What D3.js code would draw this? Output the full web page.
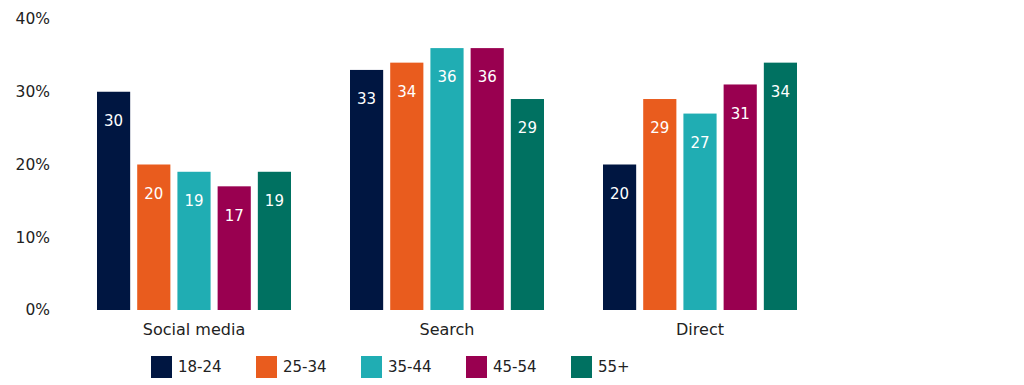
<!DOCTYPE html>
<html>
<head>
<meta charset="utf-8">
<script src="https://cdn.jsdelivr.net/npm/d3@7"></script>
<style>
  body { margin: 0; background: #fff; }
  svg text { font-family: "DejaVu Sans", sans-serif; }
</style>
</head>
<body>
<script>
let channels = ["Social media", "Search", "Direct"];
let ages = ["18-24", "25-34", "35-44", "45-54", "55+"];
let values = {
    "18-24": [30, 33, 20],
    "25-34": [20, 34, 29],
    "35-44": [19, 36, 27],
    "45-54": [17, 36, 31],
    "55+":   [19, 29, 34]
};
let yTicks = [0, 10, 20, 30, 40];
let colors = ["#001641", "#e95c1e", "#20adb3", "#990050", "#007161"];

function main() {
    let svg = d3.select("body").append("svg")
        .attr("width", 1024)
        .attr("height", 385);

    let yScale = d3.scaleLinear().domain([0, 40]).range([310, 19]);
    let xScale = d3.scaleBand().domain(channels).range([67.5, 826.5]);
    let xInner = d3.scaleBand().domain(ages).range([29.5, 223.5]).paddingInner(0.175);
    let colorScale = d3.scaleOrdinal().domain(ages).range(colors);

    // y axis labels only, no lines
    let yAxis = d3.axisLeft(yScale).tickValues(yTicks)
        .tickFormat(d => d + "%").tickSize(0).tickPadding(0);
    let gy = svg.append("g")
        .attr("transform", "translate(50,0)")
        .call(yAxis);
    gy.select(".domain").remove();
    gy.selectAll("text")
        .style("font-size", "15.5px")
        .style("font-family", "'DejaVu Sans', sans-serif")
        .attr("fill", "#222");

    let rows = [];
    channels.forEach((c, ci) => {
        ages.forEach(a => rows.push({ channel: c, age: a, value: values[a][ci] }));
    });

    svg.selectAll("rect.bar")
        .data(rows)
        .enter()
        .append("rect")
        .attr("class", "bar")
        .attr("x", d => xScale(d.channel) + xInner(d.age))
        .attr("y", d => yScale(d.value))
        .attr("width", xInner.bandwidth())
        .attr("height", d => yScale(0) - yScale(d.value))
        .attr("fill", d => colorScale(d.age));

    svg.selectAll("text.val")
        .data(rows)
        .enter()
        .append("text")
        .attr("class", "val")
        .attr("x", d => xScale(d.channel) + xInner(d.age) + xInner.bandwidth() / 2)
        .attr("y", d => yScale(d.value) + 29)
        .attr("dy", "0.35em")
        .attr("text-anchor", "middle")
        .attr("fill", "#fff")
        .style("font-size", "15px")
        .text(d => d.value);

    // category labels
    let xAxis = d3.axisBottom(xScale).tickSize(0).tickPadding(0);
    let gx = svg.append("g")
        .attr("transform", "translate(0,324)")
        .call(xAxis);
    gx.select(".domain").remove();
    gx.selectAll("text")
        .style("font-size", "16px")
        .style("font-family", "'DejaVu Sans', sans-serif")
        .attr("fill", "#222");

    // legend
    let legend = svg.append("g").attr("transform", "translate(151,356)");
    let item = legend.selectAll("g")
        .data(ages)
        .enter()
        .append("g")
        .attr("transform", (d, i) => `translate(${i * 105},0)`);
    item.append("rect")
        .attr("width", 21)
        .attr("height", 22)
        .attr("fill", d => colorScale(d));
    item.append("text")
        .attr("x", 27)
        .attr("y", 11)
        .attr("dy", "0.35em")
        .style("font-size", "15px")
        .attr("fill", "#222")
        .text(d => d);
}

main()
</script>
</body>
</html>
